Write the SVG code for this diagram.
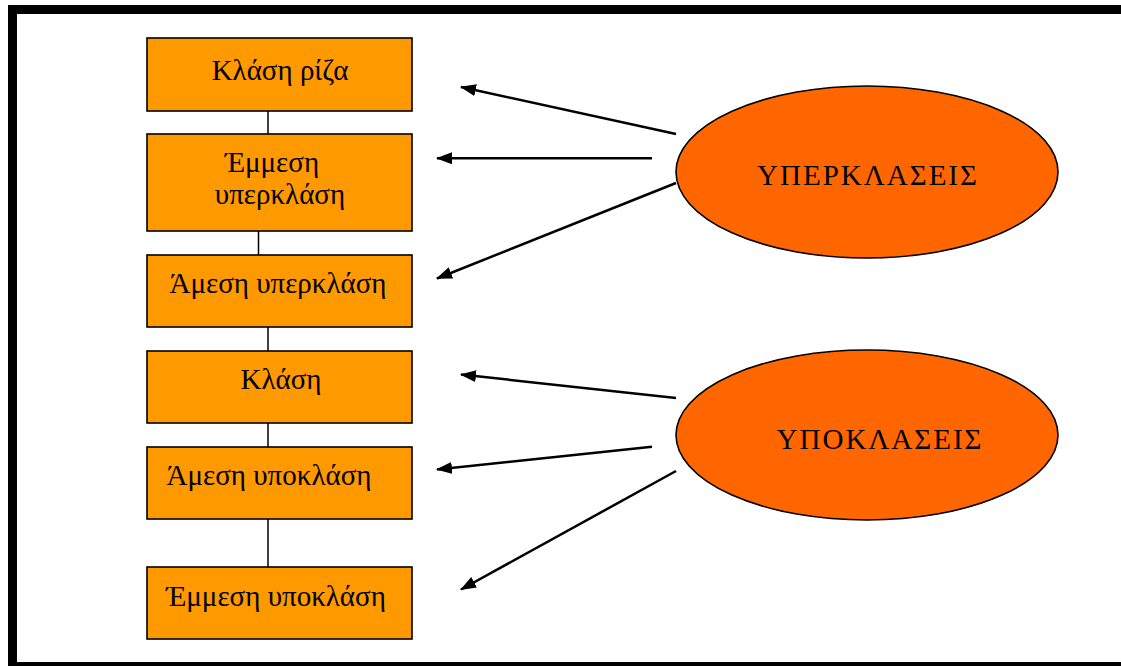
<svg xmlns="http://www.w3.org/2000/svg" width="1121" height="666" viewBox="0 0 1121 666">
<style>
.box{fill:#FF9900;stroke:#000;stroke-width:1.6}
.ell{fill:#FF6600;stroke:#000;stroke-width:1.6}
.t{font-family:"Liberation Serif","Times New Roman",serif;font-size:29px;fill:#000;text-anchor:middle}
.u{letter-spacing:2px}
.link{stroke:#000;stroke-width:1.5;fill:none}
.arr{stroke:#000;stroke-width:2.5;fill:none;marker-end:url(#ah)}
</style>
<defs>
<marker id="ah" viewBox="0 0 16 12" refX="15" refY="6" markerWidth="16" markerHeight="12" markerUnits="userSpaceOnUse" orient="auto">
<path d="M0,0 L16,6 L0,12 Z" fill="#000"/>
</marker>
</defs>
<rect x="0" y="0" width="1121" height="666" fill="#fff"/>
<rect x="12.5" y="9.5" width="1120" height="657" fill="none" stroke="#000" stroke-width="9"/>
<g id="connectors">
<line class="link" x1="268" y1="111" x2="268" y2="134"/>
<line class="link" x1="258.5" y1="231" x2="258.5" y2="255"/>
<line class="link" x1="268" y1="327" x2="268" y2="351"/>
<line class="link" x1="268" y1="423" x2="268" y2="447"/>
<line class="link" x1="268" y1="519" x2="268" y2="567"/>
<line class="arr" x1="676" y1="134" x2="461" y2="87"/>
<line class="arr" x1="652" y1="158.3" x2="437" y2="158.3"/>
<line class="arr" x1="676" y1="183" x2="437" y2="278.5"/>
<line class="arr" x1="676" y1="398" x2="461" y2="374.5"/>
<line class="arr" x1="652" y1="446.7" x2="437" y2="469.5"/>
<line class="arr" x1="676" y1="471" x2="461" y2="589.5"/>
</g>
<g id="n1"><rect class="box" x="147" y="38" width="265" height="73"/><text class="t" x="280" y="80">Κλάση ρίζα</text></g>
<g id="n2"><rect class="box" x="147" y="134" width="265" height="97"/><text class="t" x="272" y="172">Έμμεση</text><text class="t" x="280" y="204">υπερκλάση</text></g>
<g id="n3"><rect class="box" x="147" y="255" width="265" height="72"/><text class="t" x="278" y="293">Άμεση υπερκλάση</text></g>
<g id="n4"><rect class="box" x="147" y="351" width="265" height="72"/><text class="t" x="281" y="389">Κλάση</text></g>
<g id="n5"><rect class="box" x="147" y="447" width="265" height="72"/><text class="t" x="269" y="485">Άμεση υποκλάση</text></g>
<g id="n6"><rect class="box" x="147" y="567" width="265" height="72"/><text class="t" x="276" y="606">Έμμεση υποκλάση</text></g>
<g id="e1"><ellipse class="ell" cx="867" cy="172" rx="191" ry="86"/><text class="t u" x="868" y="185">ΥΠΕΡΚΛΑΣΕΙΣ</text></g>
<g id="e2"><ellipse class="ell" cx="867" cy="435" rx="191" ry="85"/><text class="t u" x="880" y="449">ΥΠΟΚΛΑΣΕΙΣ</text></g>
</svg>
